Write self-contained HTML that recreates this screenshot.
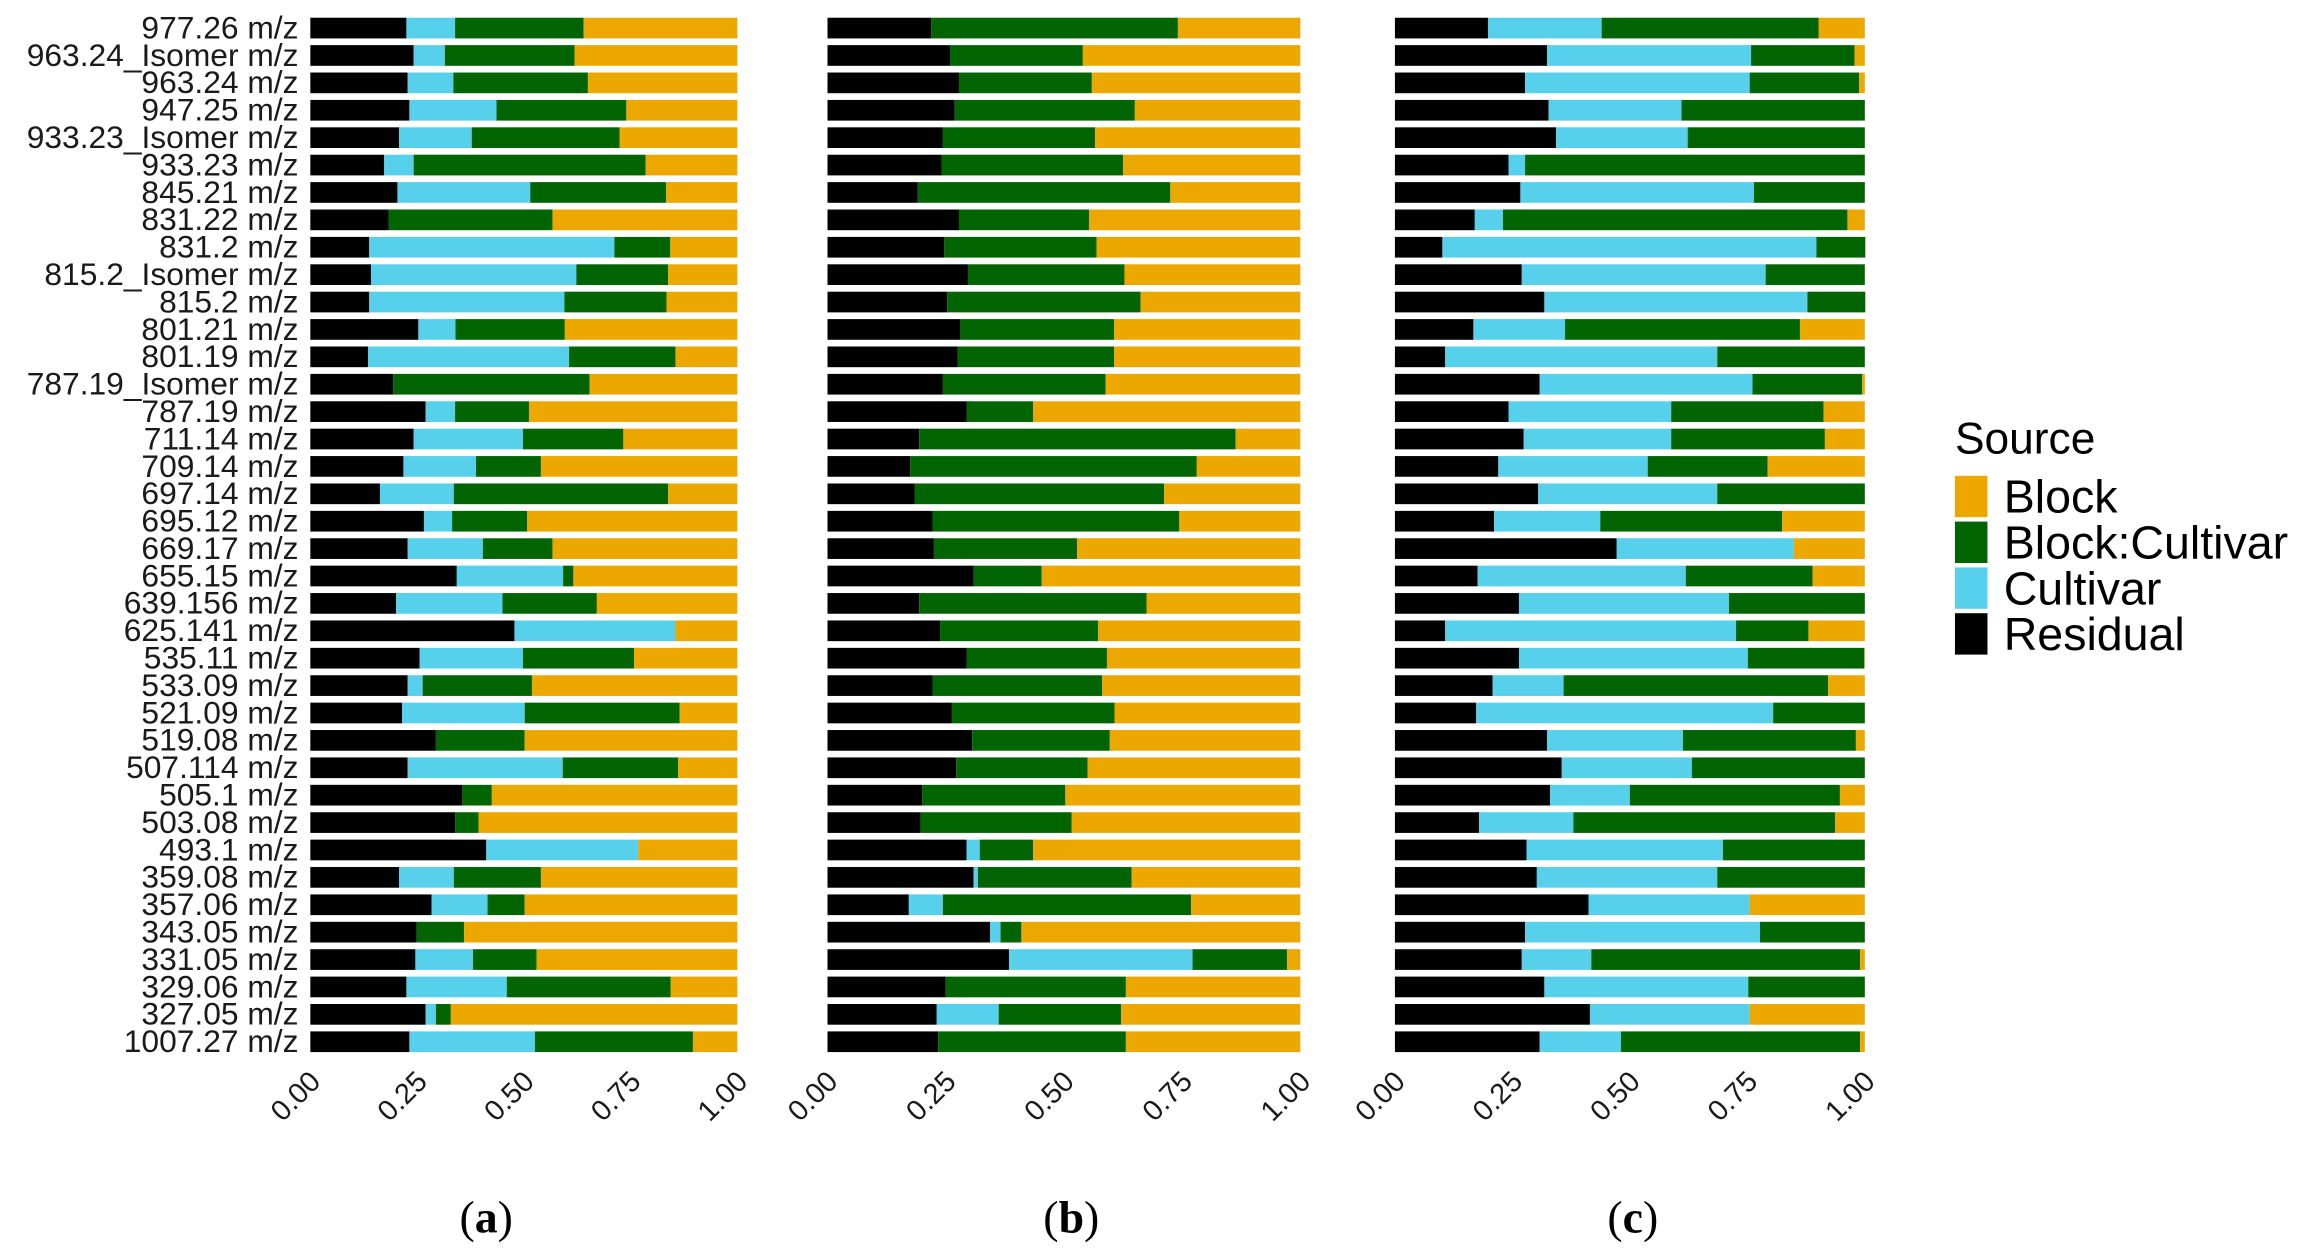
<!DOCTYPE html>
<html><head><meta charset="utf-8"><style>
html,body{margin:0;padding:0;background:#fff;}
svg{display:block;font-family:"Liberation Sans",Arial,sans-serif;}
</style></head><body>
<svg id="chart" width="2317" height="1258" viewBox="0 0 1568 851.35" xmlns="http://www.w3.org/2000/svg">
<g id="legend">
<text x="1323" y="307" font-size="30">Source</text>
<rect x="1323" y="322" width="22" height="28" fill="#EDA800"/>
<text x="1356" y="347" font-size="31.5">Block</text>
<rect x="1323" y="353" width="22" height="28" fill="#006400"/>
<text x="1356" y="378" font-size="31.5">Block:Cultivar</text>
<rect x="1323" y="384" width="22" height="28" fill="#57D0EC"/>
<text x="1356" y="409" font-size="31.5">Cultivar</text>
<rect x="1323" y="415" width="22" height="28" fill="#000"/>
<text x="1356" y="440" font-size="31.5">Residual</text>
</g>
</svg>
<script>
const categories = ["977.26 m/z","963.24_Isomer m/z","963.24 m/z","947.25 m/z","933.23_Isomer m/z","933.23 m/z","845.21 m/z","831.22 m/z","831.2 m/z","815.2_Isomer m/z","815.2 m/z","801.21 m/z","801.19 m/z","787.19_Isomer m/z","787.19 m/z","711.14 m/z","709.14 m/z","697.14 m/z","695.12 m/z","669.17 m/z","655.15 m/z","639.156 m/z","625.141 m/z","535.11 m/z","533.09 m/z","521.09 m/z","519.08 m/z","507.114 m/z","505.1 m/z","503.08 m/z","493.1 m/z","359.08 m/z","357.06 m/z","343.05 m/z","331.05 m/z","329.06 m/z","327.05 m/z","1007.27 m/z"];
const tickValues = [0, 0.25, 0.5, 0.75, 1];
const tickLabels = ["0.00","0.25","0.50","0.75","1.00"];
const panelLetters = ["a","b","c"];
// Panel (a)
const residualA = [.225,.242,.228,.232,.208,.173,.204,.183,.138,.142,.138,.253,.135,.194,.270,.242,.218,.163,.266,.228,.343,.201,.478,.256,.228,.215,.294,.228,.356,.339,.412,.208,.284,.249,.246,.225,.270,.232];
const cultivarA = [.114,.073,.107,.204,.170,.069,.311,0,.574,.481,.457,.087,.471,0,.069,.256,.170,.173,.066,.176,.249,.249,.377,.242,.035,.287,0,.363,0,0,.356,.128,.131,0,.135,.235,.024,.294];
const blockCultivarA = [.301,.304,.315,.304,.346,.543,.318,.384,.131,.215,.239,.256,.249,.460,.173,.235,.152,.502,.176,.163,.024,.221,0,.260,.256,.363,.208,.270,.069,.055,0,.204,.087,.111,.149,.384,.035,.370];
// Panel (b)
const residualB = [.219,.259,.278,.269,.244,.241,.191,.278,.247,.297,.253,.281,.275,.244,.294,.194,.175,.184,.222,.225,.309,.194,.238,.294,.222,.263,.306,.272,.200,.197,.294,.309,.172,.344,.384,.250,.231,.234];
const cultivarB = [0,0,0,0,0,0,0,0,0,0,0,0,0,0,0,0,0,0,0,0,0,0,0,0,0,0,0,0,0,0,.028,.009,.072,.022,.388,0,.131,0];
const blockCultivarB = [.522,.281,.281,.381,.322,.384,.534,.275,.322,.331,.409,.325,.331,.344,.141,.669,.606,.528,.522,.303,.144,.481,.334,.297,.359,.344,.291,.278,.303,.319,.113,.325,.525,.044,.200,.381,.259,.397];
// Panel (c)
const residualC = [.198,.324,.277,.327,.343,.242,.267,.170,.101,.270,.318,.167,.107,.308,.242,.274,.220,.305,.211,.472,.176,.264,.107,.264,.208,.173,.324,.355,.330,.179,.280,.302,.412,.277,.270,.318,.415,.308];
const cultivarC = [.242,.434,.478,.283,.280,.035,.497,.060,.796,.519,.560,.195,.579,.453,.346,.314,.318,.381,.226,.377,.443,.447,.619,.487,.151,.632,.289,.277,.170,.201,.418,.384,.343,.500,.148,.434,.340,.173];
const blockCultivarC = [.462,.220,.233,.390,.377,.723,.236,.733,.104,.211,.123,.500,.314,.233,.324,.327,.255,.314,.387,0,.270,.289,.154,.248,.563,.195,.368,.368,.447,.557,.302,.314,0,.223,.572,.248,0,.509];

const panels = [
  {x0:210, w:289, lx:329, r:residualA, c:cultivarA, bc:blockCultivarA, labels:true},
  {x0:560, w:320, lx:725, r:residualB, c:cultivarB, bc:blockCultivarB, labels:false},
  {x0:944, w:318, lx:1105, r:residualC, c:cultivarC, bc:blockCultivarC, labels:false}
];
const COL = {res:"#000000", cul:"#57D0EC", bc:"#006400", blk:"#EDA800"};
const NS = "http://www.w3.org/2000/svg";
const svg = document.getElementById("chart");
const yTop = 19, yStep = (705 - 19) / 37, barH = 14;
function yPos(i){ return yTop + i * yStep; }
function mk(tag, attrs){ const e = document.createElementNS(NS, tag); for (const k in attrs) e.setAttribute(k, attrs[k]); return e; }

panels.forEach((p, pi) => {
  const xs = v => p.x0 + v * p.w;
  const g = mk("g", {});
  
  
  svg.appendChild(g);
  categories.forEach((cat, i) => {
    const y = yPos(i) - barH / 2;
    const r = p.r[i], c = p.c[i], bc = p.bc[i];
    const segs = [[0, r, COL.res, "residual"], [r, r + c, COL.cul, "cultivar"], [r + c, r + c + bc, COL.bc, "block-cultivar"], [r + c + bc, 1, COL.blk, "block"]];
    segs.forEach(s => {
      if (s[1] - s[0] <= 0) return;
      const rect = mk("rect", {x: xs(s[0]), y: y, width: xs(s[1]) - xs(s[0]), height: barH, fill: s[2]});
      
      
      g.appendChild(rect);
    });
    if (p.labels) {
      const t = mk("text", {x: 202, y: yPos(i) + 7, "font-size": 21.5, "text-anchor": "end", fill: "#1a1a1a"});
      t.textContent = cat;
      
      
      svg.appendChild(t);
    }
  });
  tickValues.forEach((tv, ti) => {
    const tx = xs(tv) + 8, ty = 733;
    const t = mk("text", {x: tx, y: ty, "font-size": 19.5, "text-anchor": "end", fill: "#1a1a1a", transform: "rotate(-45 " + tx + " " + ty + ")"});
    t.textContent = tickLabels[ti];
    
    
    svg.appendChild(t);
  });
  const lab = mk("text", {x: p.lx, y: 834, "font-size": 31, "text-anchor": "middle", "font-family": "Liberation Serif, serif"});
  lab.innerHTML = '(<tspan font-weight="bold">' + panelLetters[pi] + '</tspan>)';
  
  
  svg.appendChild(lab);
});
</script>
</body></html>
